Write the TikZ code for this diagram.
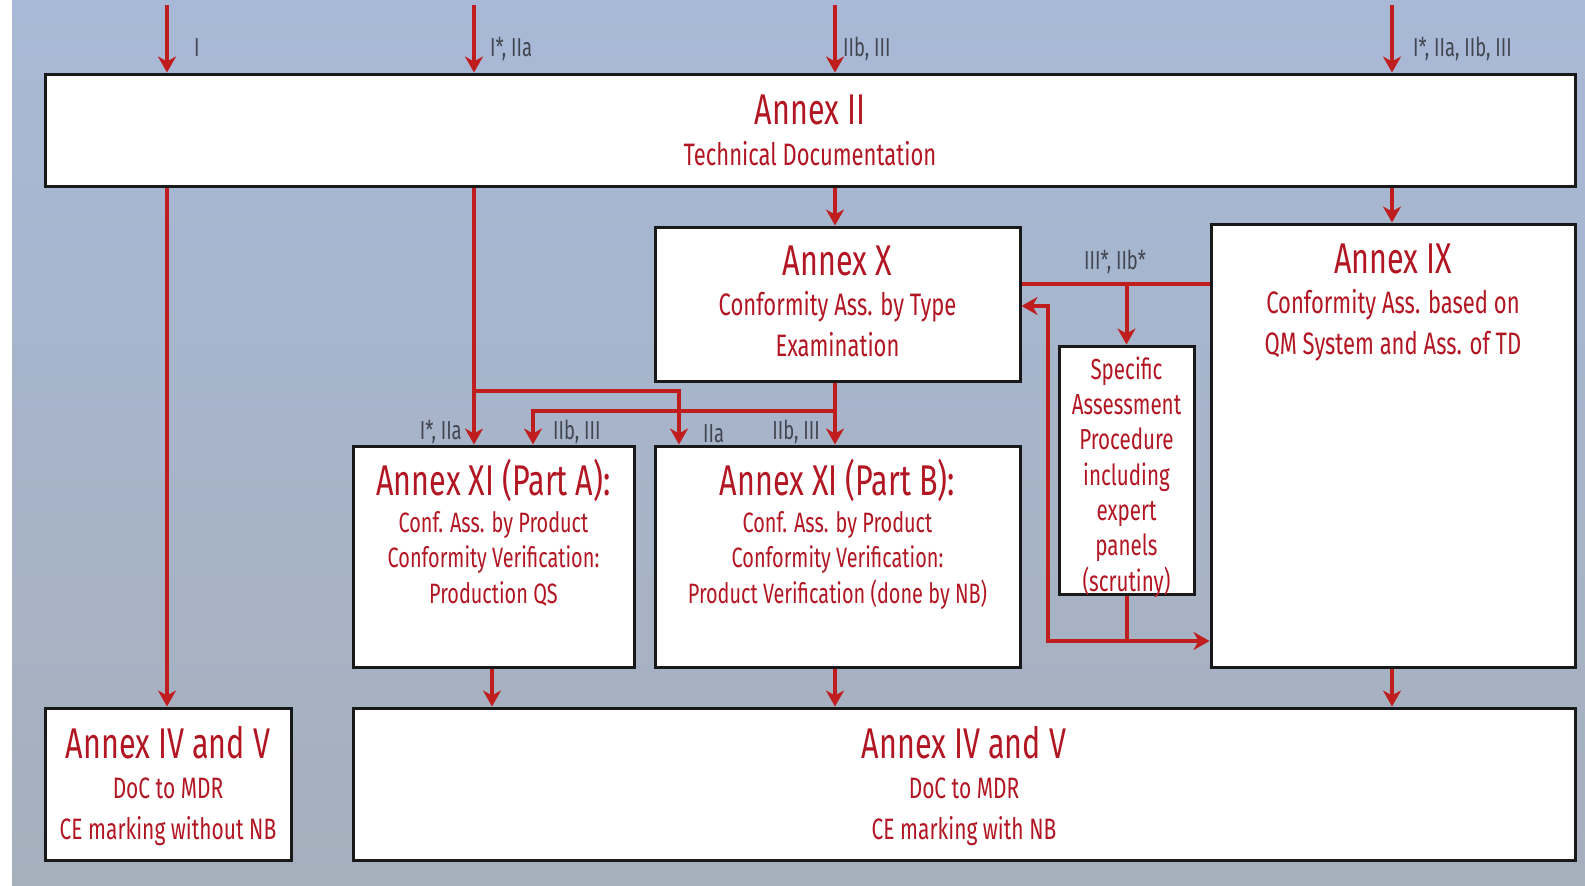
\documentclass[tikz,border=0pt]{standalone}
\usepackage{fontspec}
\setmainfont[FakeStretch=0.71]{Fira Sans}
\usetikzlibrary{arrows.meta,fit}

\definecolor{annexred}{RGB}{178,22,34}
\definecolor{flowred}{RGB}{192,30,30}
\definecolor{labelgray}{RGB}{66,70,80}
\definecolor{bgtop}{RGB}{168,185,215}
\definecolor{bgmid}{RGB}{190,209,237}
\definecolor{bgbot}{RGB}{166,175,188}

\tikzset{
  box/.style={draw=black!90, line width=3pt, fill=white, inner sep=0pt},
  flow/.style={draw=flowred, line width=4pt},
  tip/.tip={Stealth[length=16pt,width=18pt,inset=5pt]},
  arr/.style={flow, -tip},
  ttl/.style={text=annexred, font=\fontsize{43}{48}\selectfont, inner sep=0pt, anchor=base},
  % multi-line texts: placed by the baseline of their last line
  sub/.style={text=annexred, font=\fontsize{31}{40.5}\selectfont, inner sep=0pt, anchor=base, align=center},
  subsm/.style={sub, font=\fontsize{28}{35.5}\selectfont},
  subsp/.style={sub, font=\fontsize{29}{35.3}\selectfont},
  subiv/.style={sub, font=\fontsize{29.5}{40.5}\selectfont},
  lbl/.style={text=labelgray, font=\fontsize{26}{30}\selectfont, inner sep=0pt},
}

\begin{document}
\begin{tikzpicture}[x=1pt,y=-1pt]
\useasboundingbox (0,0) rectangle (1585,886);
\fill[white] (0,0) rectangle (12,886);
\shade[top color=bgtop, middle color=bgmid, bottom color=bgbot] (12,0) rectangle (1585,886);

% boxes
\node[box, fit={(45,74) (1575,186)}] (II) {};
\node[box, fit={(655,227) (1020,381)}] (X) {};
\node[box, fit={(1211,224) (1575,667)}] (IX) {};
\node[box, fit={(353,446) (634,667)}] (XIA) {};
\node[box, fit={(655,446) (1020,667)}] (XIB) {};
\node[box, fit={(1059,346) (1194,594)}] (SP) {};
\node[box, fit={(45,708) (291,860)}] (IVL) {};
\node[box, fit={(353,708) (1575,860)}] (IVR) {};

% helper coordinates: columns and levels
\coordinate (cI)   at (167,5);
\coordinate (cIIa) at (474,5);
\coordinate (cIIb) at (835,5);
\coordinate (cIII) at (1392,5);
\coordinate (cA)   at (492,0);
\coordinate (jA)   at (474,391);
\coordinate (kB)   at (679,391);
\coordinate (jB)   at (835,411);
\coordinate (kA)   at (533,411);
\coordinate (lIX)  at (0,284);
\coordinate (lX)   at (0,306);
\coordinate (fb)   at (1048,641);

% texts inside boxes
\node[ttl] (IIt) at (II.north |- 0,124) {Annex II};
\node[sub] (IIs) at (II.north |- 0,165) {Technical Documentation};

\node[ttl] (Xt) at (X.north |- 0,275) {Annex X};
\node[sub] (Xs) at (X.north |- 0,356) {Conformity Ass. by Type\\Examination};

\node[ttl] (IXt) at (IX.north |- 0,273) {Annex IX};
\node[sub] (IXs) at (IX.north |- 0,354) {Conformity Ass. based on\\QM System and Ass. of TD};

\node[ttl] (XIAt) at (XIA.north |- 0,495) {Annex XI (Part A):};
\node[subsm] (XIAs) at (XIA.north |- 0,603) {Conf. Ass. by Product\\Conformity Verification:\\Production QS};

\node[ttl] (XIBt) at (XIB.north |- 0,495) {Annex XI (Part B):};
\node[subsm] (XIBs) at (XIB.north |- 0,603) {Conf. Ass. by Product\\Conformity Verification:\\Product Verification (done by NB)};

\node[subsp] (SPs) at (SP.north |- 0,591) {Specific\\Assessment\\Procedure\\including\\expert\\panels\\(scrutiny)};

\node[ttl] (IVLt) at (IVL.north |- 0,758) {Annex IV and V};
\node[subiv] (IVLs) at (IVL.north |- 0,839) {DoC to MDR\\CE marking without NB};

\node[ttl] (IVRt) at (IVR.north |- 0,758) {Annex IV and V};
\node[subiv] (IVRs) at (IVR.north |- 0,839) {DoC to MDR\\CE marking with NB};

% incoming arrows with class labels
\draw[arr] (cI) -- (cI |- II.north);
\draw[arr] (cIIa) -- (cIIa |- II.north);
\draw[arr] (cIIb) -- (cIIb |- II.north);
\draw[arr] (cIII) -- (cIII |- II.north);
\node[lbl, anchor=base west] (lI)   at (194,56) {I};
\node[lbl, anchor=base west] (lIIa) at (490,56) {I*, IIa};
\node[lbl, anchor=base west] (lIIb) at (843,56) {IIb, III};
\node[lbl, anchor=base west] (lIII) at (1413,56) {I*, IIa, IIb, III};

% Annex II to the routes
\draw[arr] (II.south -| cI) -- (IVL.north -| cI);
\draw[arr] (II.south -| cIIa) -- (XIA.north -| cIIa);
\draw[arr] (jA) -- (kB) -- (kB |- XIB.north);
\draw[arr] (II.south -| cIIb) -- (X.north -| cIIb);
\draw[arr] (II.south -| cIII) -- (IX.north -| cIII);

% Annex X to Annex XI
\draw[arr] (X.south -| cIIb) -- (XIB.north -| cIIb);
\draw[arr] (jB) -- (kA) -- (kA |- XIA.north);
\node[lbl, anchor=base east] (lA1) at (462,439) {I*, IIa};
\node[lbl, anchor=base west] (lA2) at (553,439) {IIb, III};
\node[lbl, anchor=base west] (lB1) at (703,442) {IIa};
\node[lbl, anchor=base east] (lB2) at (820,439) {IIb, III};

% Annex IX, Annex X and the specific assessment procedure
\draw[flow] (IX.west |- lIX) -- (X.east |- lIX);
\draw[arr] (SP.north |- lIX) -- (SP.north);
\node[lbl, anchor=base] (lSP) at (1115,269) {III*, IIb*};
\draw[flow] (SP.south) -- (SP.south |- fb);
\draw[flow, tip-tip] (X.east |- lX) -| (fb) -- (fb -| IX.west);

% into the declaration of conformity
\draw[arr] (XIA.south -| cA) -- (IVR.north -| cA);
\draw[arr] (XIB.south -| cIIb) -- (IVR.north -| cIIb);
\draw[arr] (IX.south -| cIII) -- (IVR.north -| cIII);
\end{tikzpicture}
\end{document}
